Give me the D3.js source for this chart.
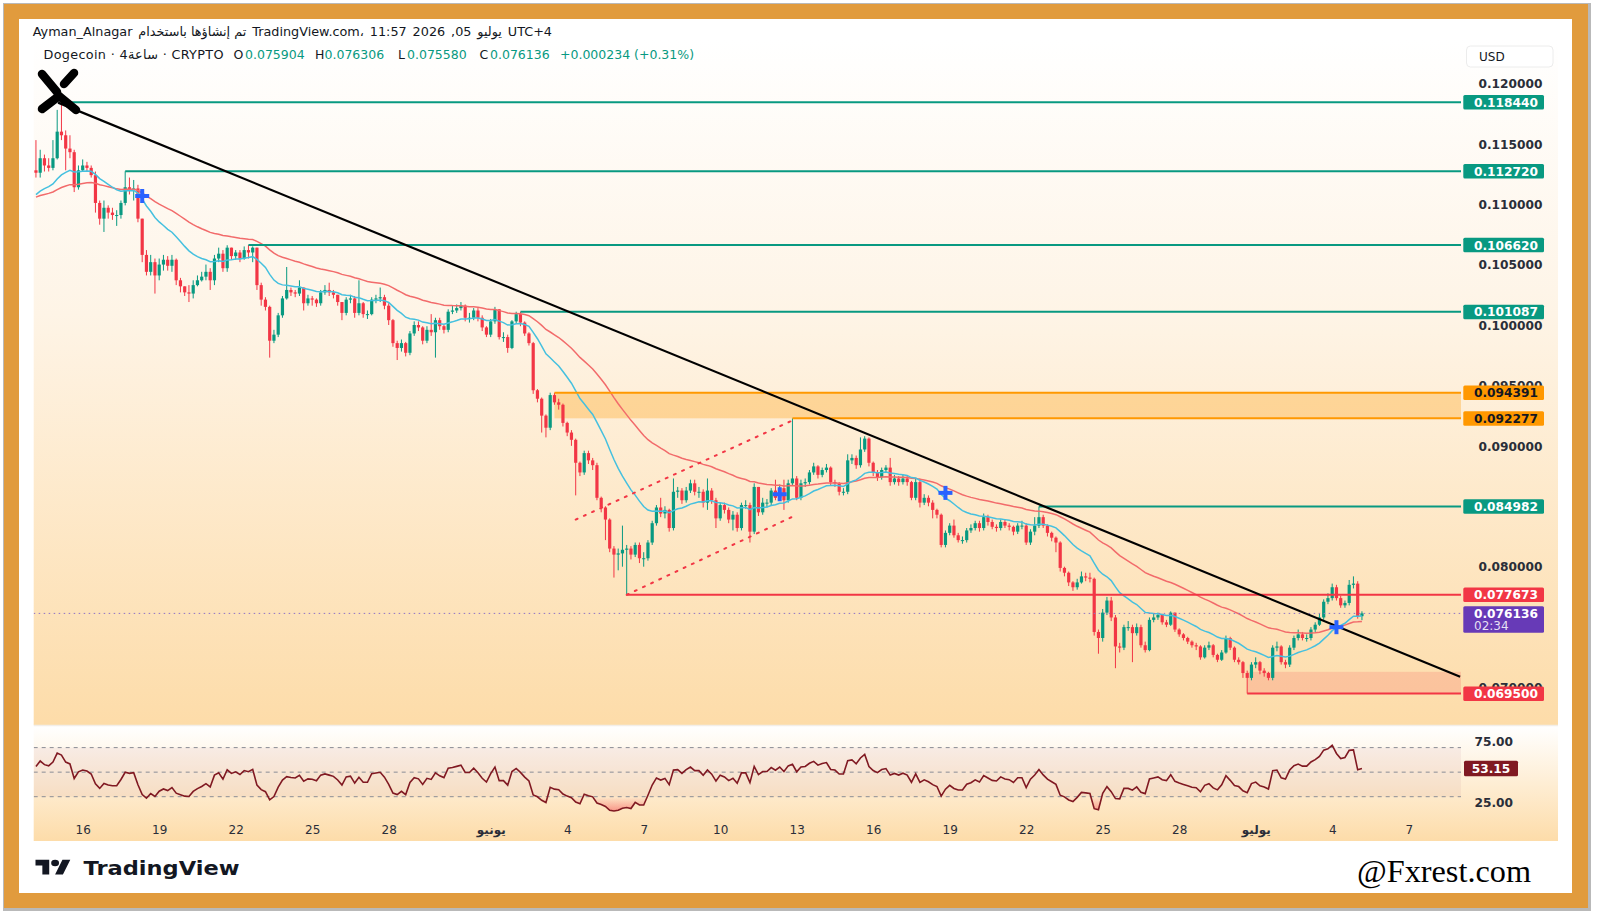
<!DOCTYPE html>
<html><head><meta charset="utf-8">
<script src="https://cdn.jsdelivr.net/npm/d3@7"></script>
<style>body{margin:0;background:#fff}svg{display:block}</style>
</head><body>
<svg id="c" width="1600" height="921"></svg>
<script>
// ---------------- DATA ----------------
const firstOpen = 0.1128;
const closes = [
0.1126,0.1138,0.1132,0.1130,0.1138,0.1160,0.1157,0.1146,0.1143,0.1114,
0.1128,0.1132,0.1130,0.1124,0.1101,0.1088,0.1097,0.1093,0.1091,0.1091,
0.1101,0.1114,0.1112,0.1113,0.1088,0.1058,0.1044,0.1052,0.1041,0.1050,
0.1054,0.1049,0.1054,0.1037,0.1032,0.1027,0.1026,0.1033,0.1037,0.1040,
0.1044,0.1037,0.1055,0.1059,0.1047,0.1064,0.1057,0.1060,0.1055,0.1062,
0.1060,0.1064,0.1033,0.1021,0.1015,0.0987,0.0992,0.1008,0.1022,0.1029,
0.1027,0.1026,0.1031,0.1018,0.1022,0.1021,0.1018,0.1027,0.1029,0.1027,
0.1025,0.1019,0.1010,0.1021,0.1022,0.1010,0.1018,0.1009,0.1009,0.1021,
0.1022,0.1023,0.1016,0.1004,0.0985,0.0981,0.0985,0.0977,0.0993,0.1000,
0.0998,0.0987,0.0996,0.0994,0.1004,0.0999,0.0996,0.1011,0.1012,0.1014,
0.1016,0.1006,0.1006,0.1012,0.1006,0.0998,0.0992,0.1003,0.1013,0.0990,
0.0990,0.0981,0.1003,0.1009,0.1002,0.0993,0.0985,0.0946,0.0939,0.0925,
0.0915,0.0942,0.0936,0.0934,0.0919,0.0911,0.0905,0.0886,0.0878,0.0894,
0.0888,0.0884,0.0857,0.0849,0.0839,0.0815,0.0810,0.0811,0.0814,0.0815,
0.0810,0.0818,0.0807,0.0807,0.0820,0.0836,0.0849,0.0844,0.0847,0.0832,
0.0862,0.0863,0.0855,0.0863,0.0869,0.0862,0.0862,0.0853,0.0863,0.0855,
0.0840,0.0851,0.0847,0.0839,0.0843,0.0832,0.0851,0.0851,0.0829,0.0866,
0.0845,0.0853,0.0853,0.0863,0.0857,0.0865,0.0855,0.0869,0.0873,0.0857,
0.0869,0.0870,0.0878,0.0883,0.0876,0.0880,0.0882,0.0870,0.0869,0.0862,
0.0862,0.0888,0.0890,0.0884,0.0897,0.0906,0.0886,0.0878,0.0874,0.0880,
0.0882,0.0870,0.0873,0.0870,0.0873,0.0870,0.0857,0.0870,0.0853,0.0857,
0.0853,0.0847,0.0843,0.0818,0.0828,0.0834,0.0826,0.0822,0.0822,0.0830,
0.0832,0.0836,0.0832,0.0841,0.0837,0.0833,0.0832,0.0837,0.0834,0.0833,
0.0829,0.0834,0.0834,0.0820,0.0829,0.0834,0.0841,0.0834,0.0828,0.0824,
0.0820,0.0799,0.0795,0.0787,0.0783,0.0787,0.0792,0.0791,0.0790,0.0746,
0.0741,0.0762,0.0772,0.0758,0.0734,0.0733,0.0750,0.0750,0.0745,0.0750,
0.0735,0.0731,0.0756,0.0758,0.0760,0.0754,0.0752,0.0762,0.0748,0.0744,
0.0741,0.0738,0.0735,0.0734,0.0725,0.0733,0.0735,0.0727,0.0723,0.0729,
0.0741,0.0733,0.0723,0.0721,0.0712,0.0708,0.0719,0.0721,0.0714,0.0712,
0.0708,0.0733,0.0734,0.0721,0.0719,0.0733,0.0741,0.0744,0.0741,0.0741,
0.0748,0.0752,0.0758,0.0771,0.0774,0.0783,0.0774,0.0768,0.0770,0.0785,
0.0786,0.075904,0.076136];
const highs = [
0.1153,0.1145,0.1141,0.1138,0.1153,0.1178,0.11844,0.1161,0.1157,0.1145,
0.1132,0.1137,0.1135,0.1132,0.1127,0.1103,0.1103,0.1099,0.1097,0.1095,
0.1103,0.11272,0.1122,0.1120,0.1116,0.1083,0.1062,0.1058,0.1055,0.1055,
0.1058,0.1057,0.1058,0.1055,0.1039,0.1032,0.1033,0.1037,0.1041,0.1044,
0.1050,0.1047,0.1058,0.1064,0.1062,0.1066,0.1064,0.1062,0.1062,0.1065,
0.10662,0.1065,0.1064,0.1035,0.1023,0.1016,0.0996,0.1010,0.1024,0.1048,
0.1031,0.1029,0.1037,0.1031,0.1025,0.1024,0.1022,0.1029,0.1033,0.1035,
0.1029,0.1025,0.1019,0.1023,0.1025,0.1024,0.1037,0.1019,0.1012,0.1023,
0.1025,0.1031,0.1025,0.1018,0.1005,0.0987,0.0988,0.0986,0.0995,0.1003,
0.1003,0.0999,0.0999,0.1009,0.1006,0.1006,0.1000,0.1013,0.1016,0.1017,
0.1019,0.1017,0.1010,0.1014,0.1014,0.1008,0.0999,0.1005,0.1015,0.1013,
0.0994,0.0992,0.1004,0.1011,0.10109,0.1003,0.0994,0.0986,0.0947,0.0940,
0.0926,0.0944,0.094391,0.0939,0.0935,0.0920,0.0913,0.0906,0.0887,0.0896,
0.0896,0.0890,0.0886,0.0858,0.0850,0.0840,0.0817,0.0815,0.0834,0.0818,
0.0817,0.0820,0.0820,0.0812,0.0822,0.0838,0.0851,0.0857,0.0850,0.0848,
0.0873,0.0866,0.0865,0.0866,0.0872,0.0872,0.0866,0.0864,0.0873,0.0865,
0.0857,0.0853,0.0853,0.0849,0.0846,0.0845,0.0853,0.0855,0.0853,0.0869,
0.0866,0.0857,0.0856,0.0865,0.0872,0.0868,0.0872,0.0872,0.092277,0.0875,
0.0872,0.0873,0.0880,0.0886,0.0884,0.0882,0.0885,0.0883,0.0872,0.0870,
0.0865,0.0893,0.0893,0.0892,0.0907,0.0908,0.0907,0.0887,0.0880,0.0882,
0.0884,0.0890,0.0876,0.0875,0.0876,0.0875,0.0871,0.0873,0.0873,0.0860,
0.0859,0.0855,0.0848,0.0844,0.0830,0.0836,0.0839,0.0828,0.0825,0.0832,
0.0835,0.0838,0.0838,0.0844,0.0843,0.0839,0.0835,0.0839,0.0839,0.0836,
0.0834,0.0836,0.0838,0.0836,0.0831,0.0841,0.084982,0.0843,0.0835,0.0829,
0.0825,0.0821,0.0800,0.0796,0.0788,0.0790,0.0796,0.0795,0.0795,0.0791,
0.0748,0.0765,0.0775,0.0775,0.0760,0.0737,0.0752,0.0755,0.0752,0.0753,
0.0752,0.0738,0.0758,0.0761,0.0762,0.0761,0.0756,0.0763,0.0762,0.0749,
0.0745,0.0742,0.0739,0.0737,0.0735,0.0735,0.0738,0.0736,0.0728,0.0731,
0.0743,0.0742,0.0734,0.0725,0.0722,0.0714,0.0721,0.0725,0.0722,0.0716,
0.0713,0.0735,0.0738,0.0735,0.0723,0.0735,0.0743,0.0748,0.0746,0.0744,
0.0750,0.0754,0.0761,0.0773,0.0778,0.0786,0.0785,0.0776,0.0772,0.0789,
0.0792,0.0788,0.076306];
const lows = [
0.1122,0.1122,0.1127,0.1127,0.1128,0.1137,0.1153,0.1128,0.1138,0.1110,
0.1112,0.1127,0.1127,0.1122,0.1093,0.1083,0.1077,0.1088,0.1087,0.1082,
0.1088,0.1099,0.1108,0.1103,0.1085,0.1052,0.1041,0.1041,0.1026,0.1037,
0.1045,0.1045,0.1044,0.1033,0.1027,0.1024,0.1019,0.1022,0.1032,0.1036,
0.1037,0.1029,0.1033,0.1052,0.1044,0.1044,0.1054,0.1054,0.1052,0.1054,
0.1055,0.1052,0.1029,0.1016,0.1012,0.0973,0.0985,0.0990,0.1006,0.1021,
0.1024,0.1023,0.1024,0.1012,0.1016,0.1016,0.1015,0.1016,0.1025,0.1024,
0.1022,0.1016,0.1004,0.1008,0.1018,0.1006,0.1008,0.1006,0.1005,0.1008,
0.1018,0.1019,0.1013,0.1000,0.0982,0.0971,0.0978,0.0974,0.0975,0.0991,
0.0995,0.0984,0.0985,0.0991,0.0973,0.0996,0.0993,0.0994,0.1009,0.1010,
0.1012,0.1003,0.1002,0.1004,0.1003,0.0995,0.0990,0.0990,0.1001,0.0988,
0.0986,0.0977,0.0980,0.1001,0.0999,0.0991,0.0983,0.0943,0.0936,0.0911,
0.0907,0.0913,0.0934,0.0930,0.0916,0.0908,0.0900,0.0859,0.0875,0.0876,
0.0885,0.0880,0.0855,0.0845,0.0822,0.0812,0.0791,0.0797,0.0800,0.077673,
0.0806,0.0808,0.0803,0.0800,0.0805,0.0818,0.0834,0.0841,0.0840,0.0829,
0.0830,0.0857,0.0852,0.0853,0.0861,0.0859,0.0857,0.0849,0.0847,0.0852,
0.0832,0.0838,0.0844,0.0836,0.0830,0.0829,0.0830,0.0848,0.0820,0.0827,
0.0842,0.0843,0.0849,0.0851,0.0855,0.0855,0.0847,0.0853,0.0867,0.0855,
0.0855,0.0866,0.0868,0.0876,0.0873,0.0874,0.0878,0.0867,0.0866,0.0859,
0.0859,0.0860,0.0885,0.0881,0.0882,0.0895,0.0883,0.0875,0.0871,0.0872,
0.0878,0.0867,0.0868,0.0867,0.0868,0.0867,0.0855,0.0855,0.0849,0.0851,
0.0850,0.0840,0.0840,0.0816,0.0816,0.0826,0.0824,0.0820,0.0819,0.0820,
0.0828,0.0830,0.0829,0.0830,0.0834,0.0831,0.0829,0.0830,0.0832,0.0830,
0.0826,0.0827,0.0831,0.0818,0.0818,0.0826,0.0832,0.0832,0.0825,0.0821,
0.0812,0.0796,0.0792,0.0784,0.0780,0.0781,0.0786,0.0788,0.0787,0.0743,
0.0728,0.0738,0.0760,0.0755,0.0716,0.0729,0.0731,0.0747,0.0721,0.0743,
0.0733,0.0729,0.0730,0.0754,0.0756,0.0752,0.0750,0.0751,0.0746,0.0742,
0.0739,0.0736,0.0733,0.0731,0.0723,0.0724,0.0731,0.0725,0.0721,0.0722,
0.0728,0.0731,0.0721,0.0719,0.0708,0.0695,0.0706,0.0716,0.0711,0.0709,
0.0706,0.0706,0.0730,0.0719,0.0716,0.0717,0.0731,0.0739,0.0739,0.0738,
0.0739,0.0746,0.0751,0.0756,0.0769,0.0772,0.0772,0.0766,0.0766,0.0768,
0.0782,0.0757,0.07558];

const emaSeeds = [0.1106, 0.1105];     // fast (20) and slow (50) EMA values before first bar
const emaPeriods = [20, 50];
const rsiSeed = [0.00050, 0.00040];    // avg gain, avg loss before first bar
const rsiLastText = "53.15";
const crossIdx = [25, 175, 214, 306];

const supportLevels = [0.118440, 0.112720, 0.106620, 0.101087, 0.084982];
const supportStart  = [6, 21, 50, 114, 236];
const zoneLevels = [0.094391, 0.092277];
const zoneStart  = [122, 178];
const redLevels = [0.077673, 0.069500];
const redStart  = [139, 285];
const redBoxTop = 0.0713;
const lastPrice = 0.076136;
const countdown = "02:34";
const trendPts = [[5.2, 0.1184], [335.1, 0.0709]];
const channelUpper = [[127, 0.0839], [178, 0.0921]];
const channelLower = [[139, 0.07767], [179, 0.0843]];

const priceTicks = [0.12, 0.115, 0.11, 0.105, 0.10, 0.095, 0.09, 0.08, 0.07];
const dateTicks = ["2026-05-16","2026-05-19","2026-05-22","2026-05-25","2026-05-28","2026-06-01","2026-06-04","2026-06-07","2026-06-10","2026-06-13","2026-06-16","2026-06-19","2026-06-22","2026-06-25","2026-06-28","2026-07-01","2026-07-04","2026-07-07"];
const dateLabels = ["16","19","22","25","28","يونيو","4","7","10","13","16","19","22","25","28","يوليو","4","7"];
const rsiTicks = [75, 25];
const headerLine1 = ["Ayman_Alnagar","تم إنشاؤها باستخدام","TradingView.com،","11:57","2026",",05","يوليو","UTC+4"];
const symbolText = "Dogecoin · 4ساعة · CRYPTO";
const ohlcText = [["O","0.075904"],["H","0.076306"],["L","0.075580"],["C","0.076136"]];
const changeText = "+0.000234 (+0.31%)";

// ---------------- SETUP ----------------
const svg = d3.select("#c").attr("font-family","'DejaVu Sans', sans-serif");
const defs = svg.append("defs");
const PANE = {l:33.7, r:1461, t:40, b:725};
const RP = {t:726, b:841};
const t0 = Date.UTC(2026,4,14,4), H4 = 4*3600*1000;

const x = d3.scaleUtc().domain([new Date(Date.UTC(2026,4,16)), new Date(Date.UTC(2026,6,4))]).range([82.7, 1332.2]);
const y = d3.scaleLinear().domain([0.07, 0.12]).range([687.55, 83.3]);
const ry = d3.scaleLinear().domain([30, 70]).range([796.7, 747.6]);
const xi = i => x(new Date(t0 + i*H4));

const data = closes.map((c,i) => {
  const o = i ? closes[i-1] : firstOpen;
  return {i, t:new Date(t0+i*H4), o, c, h:Math.max(highs[i], o, c), l:Math.min(lows[i], o, c)};
});

emaPeriods.forEach((p,k) => {
  let v = emaSeeds[k]; const a = 2/(p+1);
  data.forEach(d => { v = v + (d.c - v)*a; d["ema"+k] = v; });
});
{ let ag = rsiSeed[0], al = rsiSeed[1], prev = firstOpen;
  data.forEach(d => { const ch = d.c - prev; prev = d.c;
    ag = (ag*13 + Math.max(ch,0))/14; al = (al*13 + Math.max(-ch,0))/14;
    d.rsi = 100 - 100/(1 + ag/al); }); }

// ---------------- FRAME ----------------
svg.append("rect").attr("width",1600).attr("height",921).attr("fill","#ffffff");
svg.append("rect").attr("x",3).attr("y",3).attr("width",1588).attr("height",908).attr("fill","#b9b9b9");
svg.append("rect").attr("x",4).attr("y",4).attr("width",1584).attr("height",904).attr("fill","#E19B3D");
svg.append("rect").attr("x",19).attr("y",19).attr("width",1553).attr("height",874).attr("fill","#ffffff");

function vgrad(id, stops){ const g = defs.append("linearGradient").attr("id",id).attr("x1",0).attr("y1",0).attr("x2",0).attr("y2",1);
  stops.forEach(s => g.append("stop").attr("offset",s[0]).attr("stop-color",s[1]).attr("stop-opacity", s[2]==null?1:s[2])); }
vgrad("gMain", [["0%","#FFFFFF"],["40%","#FEF4E6"],["100%","#FDDCA9"]]);
vgrad("gRsi", [["0%","#FFFFFF"],["100%","#FDDCA9"]]);
vgrad("gOS", [["0%","#F23645",0],["100%","#F23645",0.45]]);
vgrad("gOB", [["0%","#089981",0.4],["100%","#089981",0]]);

svg.append("rect").attr("x",PANE.l).attr("y",PANE.t).attr("width",1558-PANE.l).attr("height",PANE.b-PANE.t).attr("fill","url(#gMain)");
svg.append("rect").attr("x",PANE.l).attr("y",RP.t).attr("width",1558-PANE.l).attr("height",RP.b-RP.t).attr("fill","url(#gRsi)");

defs.append("clipPath").attr("id","cpMain").append("rect").attr("x",PANE.l).attr("y",PANE.t).attr("width",PANE.r-PANE.l).attr("height",PANE.b-PANE.t);
defs.append("clipPath").attr("id","cpRsi").append("rect").attr("x",PANE.l).attr("y",RP.t).attr("width",PANE.r-PANE.l).attr("height",RP.b-RP.t);

const main = svg.append("g").attr("clip-path","url(#cpMain)");

main.append("rect").attr("x",xi(zoneStart[0])).attr("y",y(zoneLevels[0])).attr("width",PANE.r-xi(zoneStart[0]))
  .attr("height",y(zoneLevels[1])-y(zoneLevels[0])).attr("fill","#FF9800").attr("fill-opacity",0.3);
main.append("rect").attr("x",xi(redStart[1])).attr("y",y(redBoxTop)).attr("width",PANE.r-xi(redStart[1]))
  .attr("height",y(redLevels[1])-y(redBoxTop)).attr("fill","#F23645").attr("fill-opacity",0.16);

const cg = main.append("g");
cg.selectAll("line").data(data).join("line")
  .attr("x1",d=>x(d.t)).attr("x2",d=>x(d.t)).attr("y1",d=>y(d.h)).attr("y2",d=>y(d.l))
  .attr("stroke",d=>d.c>=d.o?"#089981":"#F23645").attr("stroke-width",1);
cg.selectAll("rect").data(data).join("rect")
  .attr("x",d=>x(d.t)-1.6).attr("width",3.2)
  .attr("y",d=>y(Math.max(d.o,d.c))).attr("height",d=>Math.max(1,Math.abs(y(d.o)-y(d.c))))
  .attr("fill",d=>d.c>=d.o?"#089981":"#F23645");

main.append("path").datum(data).attr("fill","none").attr("stroke","#F26B6B").attr("stroke-width",1.5)
  .attr("d",d3.line().x(d=>x(d.t)).y(d=>y(d.ema1)));
main.append("path").datum(data).attr("fill","none").attr("stroke","#45C0DF").attr("stroke-width",1.5)
  .attr("d",d3.line().x(d=>x(d.t)).y(d=>y(d.ema0)));

main.append("line").attr("x1",PANE.l).attr("x2",PANE.r).attr("y1",y(lastPrice)).attr("y2",y(lastPrice))
  .attr("stroke","#8E72C7").attr("stroke-width",1).attr("stroke-dasharray","1.5,3.5");

supportLevels.forEach((p,k)=> main.append("line").attr("x1",xi(supportStart[k])).attr("x2",PANE.r).attr("y1",y(p)).attr("y2",y(p)).attr("stroke","#089981").attr("stroke-width",2));
zoneLevels.forEach((p,k)=> main.append("line").attr("x1",xi(zoneStart[k])).attr("x2",PANE.r).attr("y1",y(p)).attr("y2",y(p)).attr("stroke","#FF9800").attr("stroke-width",2));
redLevels.forEach((p,k)=> main.append("line").attr("x1",xi(redStart[k])).attr("x2",PANE.r).attr("y1",y(p)).attr("y2",y(p)).attr("stroke","#F23645").attr("stroke-width",2));

[channelUpper, channelLower].forEach(c => main.append("line")
  .attr("x1",xi(c[0][0])).attr("y1",y(c[0][1])).attr("x2",xi(c[1][0])).attr("y2",y(c[1][1]))
  .attr("stroke","#F23645").attr("stroke-width",2).attr("stroke-dasharray","2,7").attr("stroke-linecap","round"));

main.append("line").attr("x1",xi(trendPts[0][0])).attr("y1",y(trendPts[0][1])).attr("x2",xi(trendPts[1][0])).attr("y2",y(trendPts[1][1]))
  .attr("stroke","#000").attr("stroke-width",2.2);

crossIdx.forEach(i => { const d = data[i]; const cx = x(d.t), cy = y((d.ema0+d.ema1)/2);
  main.append("rect").attr("x",cx-7).attr("y",cy-2).attr("width",14).attr("height",4).attr("fill","#2962FF");
  main.append("rect").attr("x",cx-2).attr("y",cy-7).attr("width",4).attr("height",14).attr("fill","#2962FF"); });

const xl = svg.append("g").attr("fill","none").attr("stroke","#000").attr("stroke-width",8.5).attr("stroke-linecap","round").attr("stroke-linejoin","round");
xl.append("path").attr("d","M42,74 L57,92");
xl.append("path").attr("d","M74,73 L64,84");
xl.append("path").attr("d","M42,109 L59,96 L76,110");

// ---------------- PRICE AXIS ----------------
const ya = svg.append("g").attr("transform",`translate(${PANE.r},0)`)
  .call(d3.axisRight(y).tickValues(priceTicks).tickFormat(d3.format(".6f")).tickSize(0));
ya.select(".domain").remove();
ya.selectAll("text").attr("x",81.5).attr("text-anchor","end").attr("font-size",12.2).attr("font-weight","bold")
  .attr("fill","#2a2e39").attr("font-family","'DejaVu Sans', sans-serif").attr("dy","0.35em");

svg.append("rect").attr("x",1466.5).attr("y",46).attr("width",86.5).attr("height",21).attr("rx",4).attr("fill","#fff").attr("stroke","#ECECEC");
svg.append("text").attr("x",1479).attr("y",61).attr("font-size",12).attr("fill","#131722").text("USD");

function priceLabel(p, bg, fg, extra){
  const yy = y(p); const h = extra ? 26.5 : 14.5;
  svg.append("rect").attr("x",1463.3).attr("y",yy-7.2).attr("width",80.7).attr("height",h).attr("rx",1.5).attr("fill",bg);
  svg.append("text").attr("x",1474).attr("y",yy+4.6).attr("font-size",12.2).attr("font-weight","bold").attr("fill",fg).text(d3.format(".6f")(p));
  if (extra) svg.append("text").attr("x",1474).attr("y",yy+16.5).attr("font-size",12).attr("fill",fg).attr("fill-opacity",0.85).text(extra);
}
supportLevels.forEach(p => priceLabel(p, "#089981", "#fff"));
zoneLevels.forEach(p => priceLabel(p, "#FF9800", "#131722"));
priceLabel(redLevels[0], "#F23645", "#fff");
priceLabel(lastPrice, "#673AB7", "#fff", countdown);
priceLabel(redLevels[1], "#F23645", "#fff");

// ---------------- RSI PANE ----------------
const rg = svg.append("g").attr("clip-path","url(#cpRsi)");
rg.append("rect").attr("x",PANE.l).attr("y",ry(70)).attr("width",PANE.r-PANE.l).attr("height",ry(30)-ry(70)).attr("fill","#9C4A6A").attr("fill-opacity",0.07);
[70,50,30].forEach(v => rg.append("line").attr("x1",PANE.l).attr("x2",PANE.r).attr("y1",ry(v)).attr("y2",ry(v))
  .attr("stroke","#8a8d96").attr("stroke-width",1).attr("stroke-dasharray","4,4"));
rg.append("path").datum(data).attr("fill","url(#gOS)")
  .attr("d",d3.area().x(d=>x(d.t)).y0(ry(30)).y1(d=>ry(Math.min(d.rsi,30))));
rg.append("path").datum(data).attr("fill","url(#gOB)")
  .attr("d",d3.area().x(d=>x(d.t)).y0(ry(70)).y1(d=>ry(Math.max(d.rsi,70))));
rg.append("path").datum(data).attr("fill","none").attr("stroke","#801922").attr("stroke-width",1.6)
  .attr("d",d3.line().x(d=>x(d.t)).y(d=>ry(d.rsi)));
rsiTicks.forEach(v => svg.append("text").attr("x",1474.5).attr("y",ry(v)+4.5).attr("font-size",12.2).attr("font-weight","bold").attr("fill","#2a2e39").text(d3.format(".2f")(v)));
{ const yy = ry(+rsiLastText);
  svg.append("rect").attr("x",1464).attr("y",yy-7.5).attr("width",54).attr("height",15.5).attr("rx",1.5).attr("fill","#801922");
  svg.append("text").attr("x",1491).attr("y",yy+4.5).attr("text-anchor","middle").attr("font-size",12.2).attr("font-weight","bold").attr("fill","#fff").text(rsiLastText); }

svg.append("line").attr("x1",PANE.l).attr("x2",1558).attr("y1",725.5).attr("y2",725.5).attr("stroke","#F3EEE8").attr("stroke-width",1.5);

// ---------------- TIME AXIS ----------------
const xa = svg.append("g").attr("transform","translate(0,822)")
  .call(d3.axisBottom(x).tickValues(dateTicks.map(s=>new Date(s+"T00:00:00Z"))).tickFormat((d,i)=>dateLabels[i]).tickSize(0));
xa.select(".domain").remove();
xa.selectAll("text").attr("font-size",12).attr("fill","#2a2e39").attr("font-family","'DejaVu Sans', sans-serif")
  .attr("font-weight",(d,i)=>isNaN(+dateLabels[i])?"bold":"normal").attr("dy","0.75em");

// ---------------- HEADER ----------------
function place(xp, yb, t, fill, fs){ return svg.append("text").attr("x",xp).attr("y",yb).attr("font-size",fs)
  .attr("fill",fill||"#131722").attr("direction","ltr").text(t); }
function spread(x0, x1, yb, runs, fs){
  const nodes = runs.map(t => place(0, yb, t, null, fs));
  const widths = nodes.map(n => n.node().getComputedTextLength());
  const gap = Math.max(3, (x1 - x0 - d3.sum(widths)) / (runs.length - 1));
  let xp = x0; nodes.forEach((n,k) => { n.attr("x", xp); xp += widths[k] + gap; });
}
spread(32.7, 552, 36, headerLine1, 12.8);
{ const n = place(43.5, 58.5, symbolText, null, 12.8);
  const w = n.node().getComputedTextLength();
  if (w < 178) n.attr("textLength", 180).attr("lengthAdjust", "spacing"); }
const G = "#089981";
const ohlcX = [[233.5,245],[315,324.5],[398,407],[479.6,490]];
ohlcText.forEach((o,k) => { place(ohlcX[k][0], 58.5, o[0], null, 12.5); place(ohlcX[k][1], 58.5, o[1], G, 12.5); });
place(560, 58.5, changeText, G, 12.5);

// ---------------- FOOTER ----------------
const tv = svg.append("g").attr("transform","translate(35.5,856.5) scale(0.98,0.82)").attr("fill","#131722");
tv.append("path").attr("d","M14 22H7V11H0V4h14v18zM28 22h-8l7.5-18h8L28 22z");
tv.append("circle").attr("cx",20).attr("cy",8).attr("r",4);
svg.append("text").attr("x",83.5).attr("y",875).attr("font-size",20).attr("font-weight","bold").attr("fill","#131722")
  .attr("textLength",156).attr("lengthAdjust","spacingAndGlyphs").text("TradingView");
svg.append("text").attr("x",1357).attr("y",882).attr("font-size",31).attr("font-family","'Liberation Serif', serif").attr("fill","#000")
  .attr("textLength",174).attr("lengthAdjust","spacingAndGlyphs").text("@Fxrest.com");
</script>
</body></html>
